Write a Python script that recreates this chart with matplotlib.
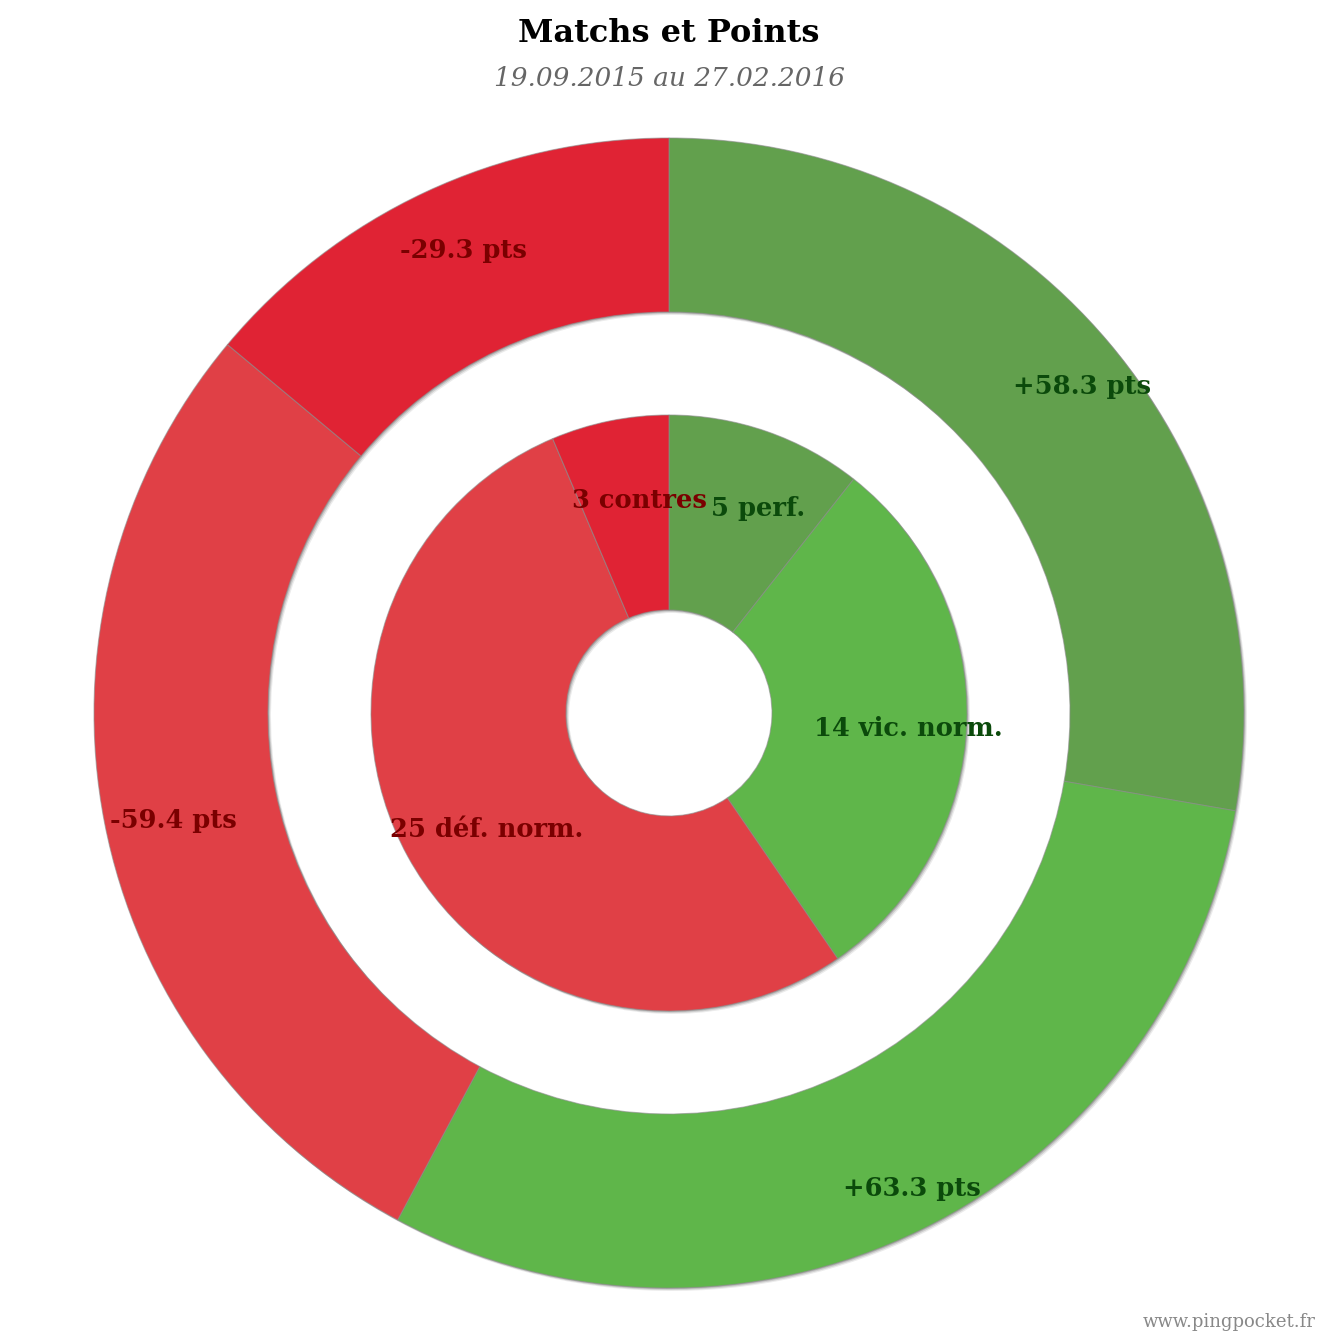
import matplotlib
matplotlib.use("Agg")
import matplotlib.pyplot as plt
import numpy as np

# Data
outer_labels = ["+58.3 pts", "+63.3 pts", "-59.4 pts", "-29.3 pts"]
outer_values = [58.3, 63.3, 59.4, 29.3]
outer_colors = ["#62A04D", "#5FB64A", "#E04046", "#E02334"]
outer_text_colors = ["#0B4A0B", "#0B4A0B", "#7A0000", "#7A0000"]

inner_labels = ["5 perf.", "14 vic. norm.", "25 déf. norm.", "3 contres"]
inner_values = [5, 14, 25, 3]
inner_colors = ["#62A04D", "#5FB64A", "#E04046", "#E02334"]
inner_text_colors = ["#0B4A0B", "#0B4A0B", "#7A0000", "#7A0000"]

title = "Matchs et Points"
subtitle = "19.09.2015 au 27.02.2016"
credit = "www.pingpocket.fr"

W = H = 1338
fig = plt.figure(figsize=(W / 100, H / 100), dpi=100)
ax = fig.add_axes([0, 0, 1, 1])

cx, cy = 669, 713
R_out, W_out = 575, 174
R_in, W_in = 298, 195
LDX, LDY = 15, 8  # label offset (px, right/down)


def ring(values, colors, radius, width, labels, tcolors, label_r):
    # soft shadow
    for off, a in [(3, 0.08), (2, 0.12), (1, 0.15)]:
        ax.pie(values, radius=radius, startangle=90, counterclock=False,
               center=(cx + off, -cy - off), colors=["#000000"] * len(values),
               wedgeprops=dict(width=width, linewidth=0, alpha=a))
    wedges, _ = ax.pie(values, radius=radius, startangle=90, counterclock=False,
                       center=(cx, -cy), colors=colors,
                       wedgeprops=dict(width=width, edgecolor=(0.55, 0.55, 0.55, 0.6),
                                       linewidth=0.8))
    for w, lab, tc in zip(wedges, labels, tcolors):
        ang = np.deg2rad((w.theta1 + w.theta2) / 2)
        x = cx + label_r * np.cos(ang) + LDX
        y = -cy + label_r * np.sin(ang) - LDY
        ax.text(x, y, lab, ha="center", va="center", color=tc,
                fontsize=18.5, fontweight="bold", family="DejaVu Serif")


ring(outer_values, outer_colors, R_out, W_out, outer_labels, outer_text_colors, 520)
ring(inner_values, inner_colors, R_in, W_in, inner_labels, inner_text_colors, 225)

ax.set_xlim(0, W)
ax.set_ylim(-H, 0)
ax.set_aspect("equal")
ax.axis("off")

fig.text(669 / W, 1 - 33 / H, title, ha="center", va="center", fontsize=23,
         fontweight="bold", family="DejaVu Serif", color="#000000")
fig.text(669 / W, 1 - 78 / H, subtitle, ha="center", va="center", fontsize=19,
         style="italic", family="DejaVu Serif", color="#666666")
fig.text(1229 / W, 1 - 1322 / H, credit, ha="center", va="center", fontsize=13,
         family="DejaVu Serif", color="#888888")

fig.savefig("out.png", dpi=100)
